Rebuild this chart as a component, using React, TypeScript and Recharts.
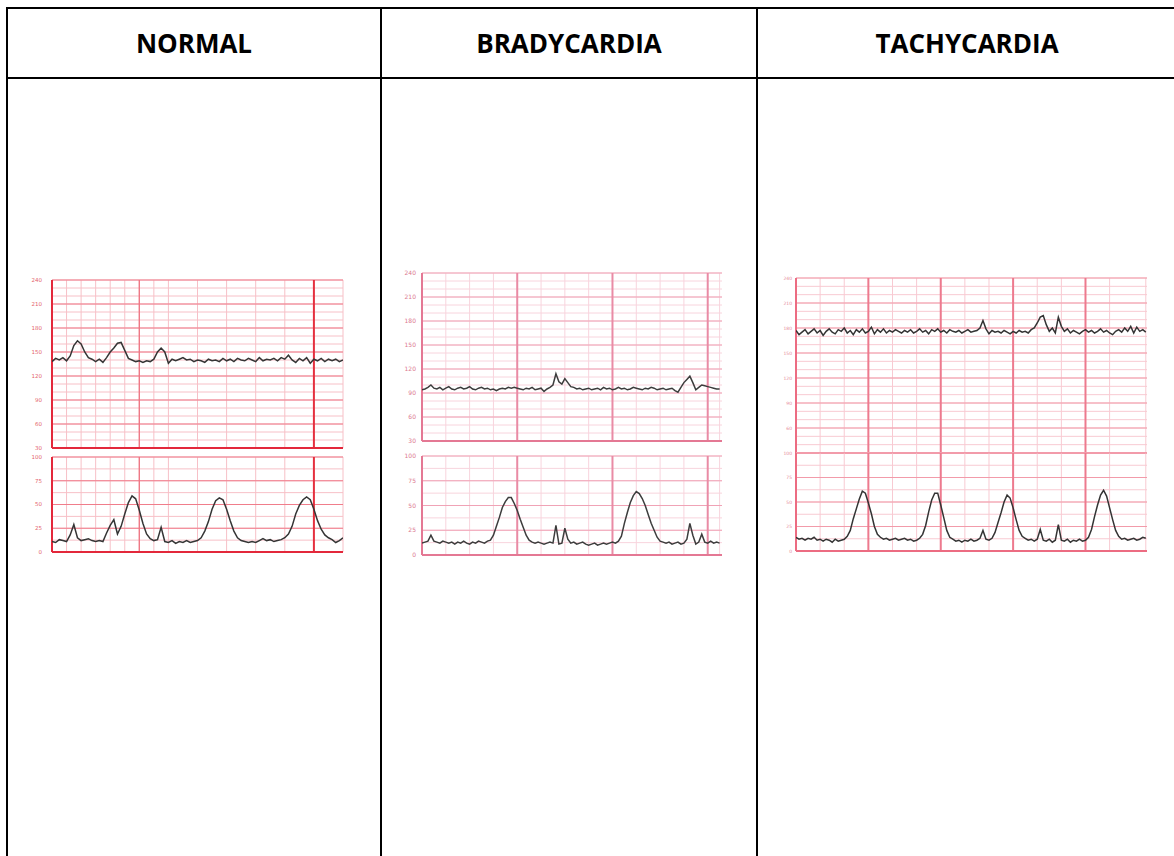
import { LineChart, Line, XAxis, YAxis, ReferenceLine, CartesianGrid } from 'recharts'

const STEP = 0.25

// fetal heart rate (bpm) and uterine activity, one sample per quarter grid square
const normalFhr = [
  138, 142, 140, 143, 139, 145, 158, 164, 160, 150,
  143, 141, 138, 141, 137, 143, 150, 155, 161, 162,
  152, 142, 140, 138, 139, 137, 139, 138, 141, 150,
  155, 150, 136, 141, 139, 141, 143, 140, 141, 138,
  140, 139, 137, 141, 139, 140, 138, 142, 139, 141,
  138, 142, 140, 139, 142, 140, 138, 143, 139, 141,
  140, 142, 139, 143, 141, 146, 140, 137, 142, 139,
  143, 136, 141, 139, 142, 138, 141, 139, 141, 138,
  140,
]
const normalUc = [
  11, 10, 13, 12, 11, 18, 29, 15, 12, 13,
  14, 12, 11, 12, 11, 20, 28, 34, 19, 27,
  40, 52, 59, 56, 44, 30, 19, 14, 12, 13,
  26, 11, 10, 12, 9, 11, 10, 12, 10, 11,
  12, 15, 22, 32, 45, 54, 57, 55, 45, 33,
  22, 15, 12, 11, 10, 11, 10, 12, 14, 12,
  13, 11, 12, 13, 15, 19, 27, 40, 49, 55,
  58, 55, 45, 33, 24, 18, 15, 13, 10, 12,
  15,
]

const bradyFhr = [
  94, 95, 97, 100, 96, 95, 97, 94, 96, 98,
  95, 94, 96, 97, 95, 96, 98, 95, 94, 96,
  97, 95, 96, 94, 95, 93, 95, 96, 95, 97,
  96, 97, 96, 95, 94, 96, 95, 97, 94, 95,
  96, 92, 95, 97, 100, 114, 104, 101, 108, 103,
  98, 97, 95, 96, 94, 95, 96, 94, 95, 96,
  94, 97, 95, 96, 94, 95, 97, 95, 96, 94,
  95, 97, 96, 95, 94, 96, 95, 97, 96, 94,
  95, 96, 94, 95, 96, 93, 91, 97, 103, 107,
  111, 103, 94, 97, 100, 99, 98, 97, 96, 95,
  95,
]
const bradyUc = [
  12, 13, 14, 20, 14, 13, 12, 14, 13, 12,
  13, 11, 13, 12, 14, 12, 11, 13, 12, 14,
  13, 12, 14, 15, 20, 29, 38, 48, 54, 58,
  58, 52, 45, 36, 28, 20, 15, 13, 12, 13,
  12, 11, 12, 13, 12, 30, 11, 12, 27, 16,
  12, 13, 11, 12, 13, 11, 10, 11, 12, 10,
  11, 12, 11, 12, 13, 12, 14, 19, 32, 43,
  53, 60, 64, 62, 57, 50, 41, 32, 25, 18,
  14, 13, 12, 13, 11, 12, 13, 11, 12, 16,
  32, 20, 11, 13, 21, 13, 12, 14, 12, 13,
  12,
]

const tachyFhr = [
  177, 172, 175, 178, 173, 176, 179, 174, 177, 171,
  176, 179, 175, 173, 178, 176, 180, 174, 177, 172,
  178, 175, 179, 174, 176, 181, 173, 178, 175, 179,
  174, 177, 175, 178, 176, 174, 177, 175, 178, 174,
  176, 179, 175, 177, 173, 178, 176, 179, 175, 177,
  174, 178, 176, 175, 177, 174, 176, 178, 175, 176,
  177, 180, 189, 179, 173, 177, 175, 176, 174, 177,
  175, 173, 176, 174, 177, 175, 176, 174, 178, 180,
  186, 193, 195, 184, 176, 180, 174, 193, 182, 176,
  179, 174, 177, 175, 173, 176, 178, 175, 177, 174,
  176, 179, 175, 177, 174, 172, 176, 178, 175, 180,
  176, 182, 174, 181, 176, 178, 175,
]
const tachyUc = [
  14, 12, 13, 11, 13, 12, 14, 11, 12, 10,
  12, 11, 9, 12, 10, 11, 12, 15, 21, 33,
  43, 53, 61, 59, 49, 38, 25, 17, 14, 12,
  13, 11, 12, 13, 11, 12, 13, 11, 12, 10,
  11, 13, 17, 26, 40, 52, 59, 59, 47, 34,
  21, 14, 12, 10, 11, 9, 11, 10, 12, 10,
  11, 13, 21, 12, 11, 13, 19, 29, 39, 50,
  57, 54, 44, 32, 21, 15, 13, 11, 12, 10,
  12, 22, 11, 10, 12, 9, 11, 27, 11, 10,
  12, 9, 11, 10, 12, 10, 11, 14, 22, 35,
  47, 57, 62, 56, 44, 32, 21, 15, 12, 13,
  11, 12, 13, 11, 12, 14, 13,
]

const headers = ['NORMAL', 'BRADYCARDIA', 'TACHYCARDIA']
const fhrTicks = [30, 60, 90, 120, 150, 180, 210, 240]
const tachyFhrTicks = [60, 90, 120, 150, 180, 210, 240]
const ucTicks = [0, 25, 50, 75, 100]

type Theme = { axis: string; bold: string; mid: string; major: string; minor: string; label: string; trace: string }

const redTheme: Theme = { axis: '#e3283b', bold: '#e5303f', mid: '#ee7482', major: '#f07d8b', minor: '#f7c0c7', label: '#e45f6d', trace: '#353535' }
const pinkTheme: Theme = { axis: '#e47894', bold: '#e98ba5', mid: '#e98ba5', major: '#f0a3b6', minor: '#f8d4dd', label: '#dc7890', trace: '#3d3d3d' }
const roseTheme: Theme = { axis: '#ec6c82', bold: '#ed7a8e', mid: '#ed7a8e', major: '#f29baa', minor: '#f8cad2', label: '#e68b9b', trace: '#343434' }

function range(from: number, to: number, by: number) {
  const out: number[] = []
  for (let i = 0; from + i * by <= to + 1e-6; i++) out.push(from + i * by)
  return out
}

type PanelProps = {
  left: number
  top: number
  plotWidth: number
  plotHeight: number
  labelWidth: number
  gap: number
  fontSize: number
  values: number[]
  xMax: number
  domain: [number, number]
  ticks: number[]
  minorY: number
  majorY: number
  boldX: number[]
  midX: number[]
  theme: Theme
}

function Panel(p: PanelProps) {
  const rows = p.values.map((v, i) => ({ t: i * STEP, v }))
  const mt = 4
  const mb = 3
  const mr = 2
  const vx = range(1, Math.floor(p.xMax), 1)
  const hMajor = range(p.domain[0], p.domain[1], p.majorY)
  const hMinor = range(p.domain[0], p.domain[1], p.minorY)
  const t = p.theme
  return (
    <div style={{ position: 'absolute', left: p.left - p.labelWidth, top: p.top - mt }}>
      <LineChart
        width={p.labelWidth + p.plotWidth + mr}
        height={p.plotHeight + mt + mb}
        data={rows}
        margin={{ top: mt, right: mr, bottom: mb, left: 0 }}
      >
        <XAxis dataKey="t" type="number" domain={[0, p.xMax]} hide allowDataOverflow />
        <YAxis
          type="number"
          domain={p.domain}
          ticks={p.ticks}
          interval={0}
          width={p.labelWidth}
          axisLine={false}
          tickLine={false}
          tickSize={p.gap}
          tick={{ fill: t.label, fontSize: p.fontSize, fontFamily: 'DejaVu Sans' }}
          allowDataOverflow
        />
        <CartesianGrid verticalValues={vx} horizontalValues={hMinor} stroke={t.minor} strokeWidth={1} />
        <CartesianGrid vertical={false} horizontalValues={hMajor} stroke={t.major} strokeWidth={1.2} />
        {p.midX.length > 0 && (
          <CartesianGrid horizontal={false} verticalValues={p.midX} stroke={t.mid} strokeWidth={1.3} />
        )}
        <CartesianGrid horizontal={false} verticalValues={p.boldX} stroke={t.bold} strokeWidth={2} />
        <ReferenceLine x={0} stroke={t.axis} strokeWidth={2} />
        <ReferenceLine y={p.domain[0]} stroke={t.axis} strokeWidth={2} />
        <Line
          type="linear"
          dataKey="v"
          stroke={t.trace}
          strokeWidth={1.5}
          dot={false}
          isAnimationActive={false}
        />
      </LineChart>
    </div>
  )
}

const cols = [
  { left: 6, width: 374 },
  { left: 380, width: 376 },
  { left: 756, width: 420 },
]

export default function App() {
  return (
    <div style={{ position: 'fixed', inset: 0, overflow: 'hidden', background: '#fff' }}>
      {cols.map((c, i) => (
        <div key={'h' + i}>
          <div
            style={{
              position: 'absolute',
              left: c.left,
              top: 7,
              width: c.width,
              height: 70,
              boxSizing: 'border-box',
              borderLeft: '2px solid #000',
              borderTop: '2px solid #000',
              display: 'flex',
              alignItems: 'center',
              justifyContent: 'center',
              fontFamily: '"Open Sans", sans-serif',
              fontWeight: 700,
              fontSize: 26,
              color: '#000',
            }}
          >
            {headers[i]}
          </div>
          <div
            style={{
              position: 'absolute',
              left: c.left,
              top: 77,
              width: c.width,
              height: 900,
              boxSizing: 'border-box',
              borderLeft: '2px solid #000',
              borderTop: '2px solid #000',
            }}
          />
        </div>
      ))}

      {/* NORMAL */}
      <Panel left={52} top={279.5} plotWidth={291} plotHeight={168} labelWidth={24} gap={8} fontSize={5.5}
        values={normalFhr} xMax={20} domain={[30, 240]} ticks={fhrTicks} minorY={10} majorY={30}
        boldX={[18]} midX={[6]} theme={redTheme} />
      <Panel left={52} top={457} plotWidth={291} plotHeight={95} labelWidth={24} gap={8} fontSize={5.5}
        values={normalUc} xMax={20} domain={[0, 100]} ticks={ucTicks} minorY={12.5} majorY={25}
        boldX={[18]} midX={[6]} theme={redTheme} />

      {/* BRADYCARDIA */}
      <Panel left={422} top={273} plotWidth={300} plotHeight={168} labelWidth={20} gap={4} fontSize={6}
        values={bradyFhr} xMax={25.2} domain={[30, 240]} ticks={fhrTicks} minorY={10} majorY={30}
        boldX={[8, 16, 24]} midX={[]} theme={pinkTheme} />
      <Panel left={422} top={456} plotWidth={300} plotHeight={99} labelWidth={20} gap={4} fontSize={6}
        values={bradyUc} xMax={25.2} domain={[0, 100]} ticks={ucTicks} minorY={12.5} majorY={25}
        boldX={[8, 16, 24]} midX={[]} theme={pinkTheme} />

      {/* TACHYCARDIA */}
      <Panel left={796} top={278} plotWidth={351} plotHeight={175} labelWidth={14} gap={2} fontSize={4.5}
        values={tachyFhr} xMax={29.1} domain={[30, 240]} ticks={tachyFhrTicks} minorY={10} majorY={30}
        boldX={[6, 12, 18, 24]} midX={[]} theme={roseTheme} />
      <Panel left={796} top={453} plotWidth={351} plotHeight={98} labelWidth={14} gap={2} fontSize={4.5}
        values={tachyUc} xMax={29.1} domain={[0, 100]} ticks={ucTicks} minorY={12.5} majorY={25}
        boldX={[6, 12, 18, 24]} midX={[]} theme={roseTheme} />
    </div>
  )
}
